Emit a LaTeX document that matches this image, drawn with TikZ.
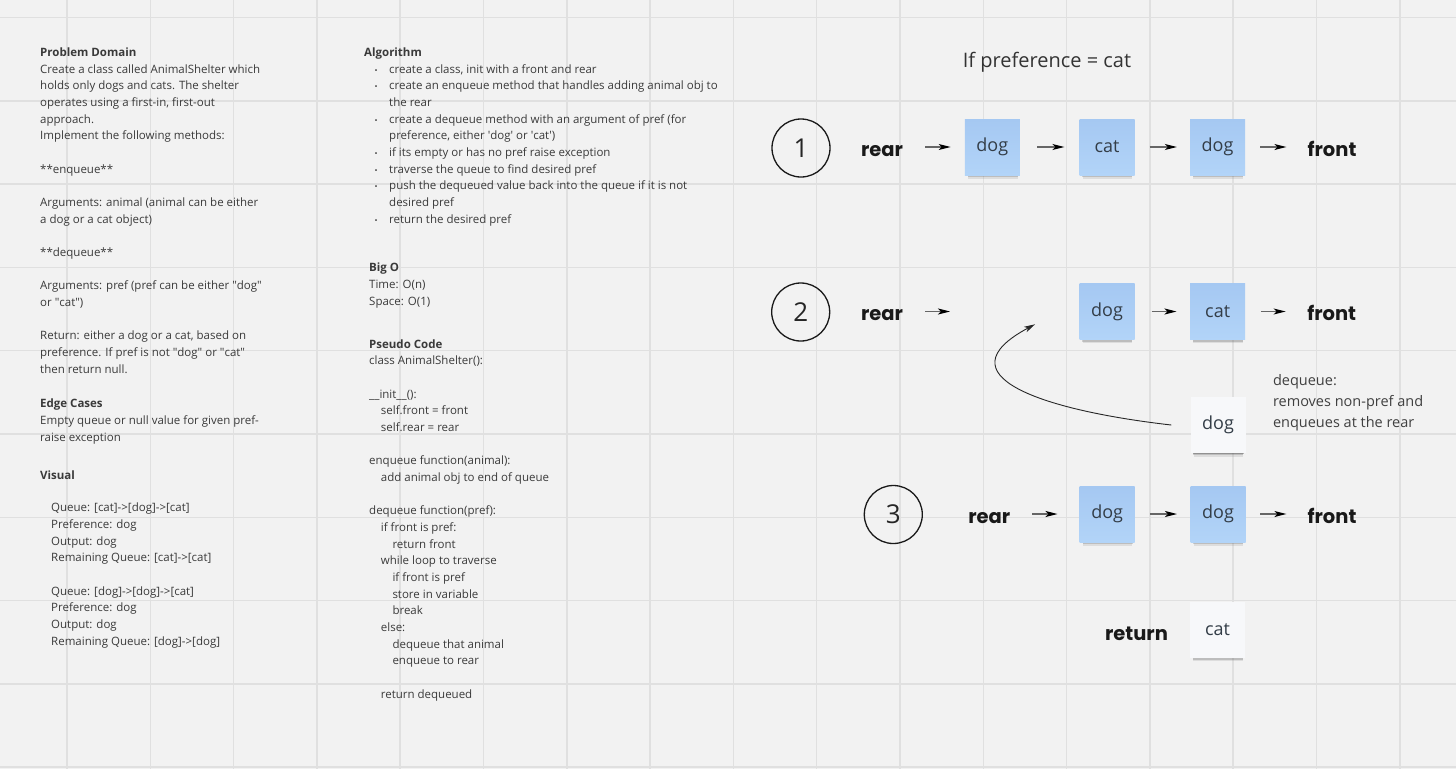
\documentclass[tikz,border=0pt]{standalone}
\usepackage{fontspec}
\setmainfont{Open Sans}
\newfontfamily\poppins{Poppins}
\usetikzlibrary{arrows.meta,shadows}
\definecolor{board}{HTML}{F2F2F2}
\definecolor{gridc}{HTML}{E0E0E0}
\definecolor{ink}{HTML}{3A3A3A}
\definecolor{noteTop}{HTML}{A5C8F2}
\definecolor{noteBot}{HTML}{B2D4F8}
\definecolor{noteWhite}{HTML}{F7F8FA}
\definecolor{noteInk}{HTML}{333D47}
\newcommand\bodyfont{\fontsize{11.5}{16.67}\selectfont}
\newcommand\gap{\\[16.67pt]}
\newcommand\itm{\makebox[25pt][l]{\hspace{10.5pt}{\fontsize{8}{8}\selectfont\textbullet}}}
\newcommand\cont{\hspace*{25pt}}
\newcommand\indA{\hspace*{11.7pt}}
\newcommand\indB{\hspace*{23.3pt}}
\newcommand\dq{\textquotedbl}

\begin{document}
\begin{tikzpicture}[x=1pt,y=-1pt]
\tikzstyle{every node}+=[inner sep=0pt]
\tikzstyle{gridline}=[gridc, line width=1.5pt]
\tikzstyle{textblock}=[anchor=north west, align=left, font=\bodyfont, text=ink]
\tikzstyle{numcircle}=[circle, draw=black!90, line width=1.3pt, minimum size=58pt, font=\fontsize{26}{26}\selectfont, text=black!85]
\tikzstyle{qlabel}=[anchor=base, font=\poppins\bfseries\fontsize{19.5}{20}\selectfont, text=black!90]
\tikzstyle{note}=[minimum width=55pt, minimum height=56pt, font=\fontsize{18}{18}\selectfont, text=noteInk,
  general shadow={fill=black!70, opacity=0.12, shadow scale=0.9, shadow yshift=-7pt, shadow xshift=0.5pt},
  general shadow={fill=black!70, opacity=0.22, shadow scale=0.91, shadow yshift=-5pt, shadow xshift=0.5pt},
  general shadow={fill=black!75, opacity=0.35, shadow scale=0.92, shadow yshift=-3.5pt, shadow xshift=0.5pt}]
\tikzstyle{bluenote}=[note, top color=noteTop, bottom color=noteBot]
\tikzstyle{whitenote}=[note, fill=noteWhite]
\tikzstyle{qarrow}=[draw=black!60, line width=1.2pt, -{Stealth[length=12pt,width=6pt,inset=3pt,color=black]}]
\tikzstyle{backarrow}=[draw=black!85, line width=0.9pt, -{Stealth[length=11pt,width=6pt,inset=3pt]}]

% board and grid
\useasboundingbox (0,0) rectangle (1456,769);
\fill[board] (0,0) rectangle (1456,769);
\foreach \i in {0,...,16}
  \draw[gridline] ({67+83.3*\i},0) -- ++(0,769);
\foreach \j in {0,...,9}
  \draw[gridline] (0,{17.5+83.3*\j}) -- ++(1456,0);

% left column
\node[textblock] (domain) at (40,47.6) {\textbf{Problem Domain}\\Create a class called AnimalShelter which\\holds only dogs and cats. The shelter\\operates using a first-in, first-out\\approach.\\Implement the following methods:\gap**enqueue**\gap Arguments: animal (animal can be either\\a dog or a cat object)\gap**dequeue**\gap Arguments: pref (pref can be either \dq dog\dq\\or \dq cat\dq)\gap Return: either a dog or a cat, based on\\preference. If pref is not \dq dog\dq{} or \dq cat\dq\\then return null.};
\node[textblock, font=\fontsize{11.5}{17}\selectfont] (edges) at (40,399) {\textbf{Edge Cases}\\Empty queue or null value for given pref-\\raise exception};
\node[textblock] (visual) at (40,470.3) {\textbf{Visual}};
\node[textblock] (examples) at (51,503) {Queue: [cat]->[dog]->[cat]\\Preference: dog\\Output: dog\\Remaining Queue: [cat]->[cat]\gap Queue: [dog]->[dog]->[cat]\\Preference: dog\\Output: dog\\Remaining Queue: [dog]->[dog]};

% middle column
\node[textblock] (algo) at (364,47.6) {\textbf{Algorithm}\\\itm create a class, init with a front and rear\\\itm create an enqueue method that handles adding animal obj to\\\cont the rear\\\itm create a dequeue method with an argument of pref (for\\\cont preference, either \textquotesingle dog\textquotesingle{} or \textquotesingle cat\textquotesingle)\\\itm if its empty or has no pref raise exception\\\itm traverse the queue to find desired pref\\\itm push the dequeued value back into the queue if it is not\\\cont desired pref\\\itm return the desired pref};
\node[textblock] (bigo) at (369,263) {\textbf{Big O}\\Time: O(n)\\Space: O(1)};
\node[textblock] (pseudo) at (369,339.3) {\textbf{Pseudo Code}\\class AnimalShelter():\gap\_\_init\_\_():\\\indA self.front = front\\\indA self.rear = rear\gap enqueue function(animal):\\\indA add animal obj to end of queue\gap dequeue function(pref):\\\indA if front is pref:\\\indB return front\\\indA while loop to traverse\\\indB if front is pref\\\indB store in variable\\\indB break\\\indA else:\\\indB dequeue that animal\\\indB enqueue to rear\gap\indA return dequeued};

% right side
\node[anchor=base, font=\fontsize{20}{20}\selectfont, text=black!80] (title) at (1047,67.5) {If preference = cat};

% step 1
\node[numcircle] (stepA) at (801,148) {1};
\node[qlabel] (rearA) at (882,156) {rear};
\node[bluenote] (dogA) at (992.3,147) {dog};
\node[bluenote] (catA) at (1107,147) {cat};
\node[bluenote] (dogB) at (1217.5,147) {dog};
\node[qlabel] (frontA) at (1332,156) {front};
\draw[qarrow, shorten <=22pt, shorten >=14pt] (rearA.east |- dogA) -- (dogA);
\draw[qarrow, shorten <=17pt, shorten >=15pt] (dogA) -- (catA);
\draw[qarrow, shorten <=15pt, shorten >=13pt] (catA) -- (dogB);
\draw[qarrow, shorten <=15pt, shorten >=21pt] (dogB) -- (dogB -| frontA.west);

% step 2
\node[numcircle] (stepB) at (800.7,312) {2};
\node[qlabel] (rearB) at (882,320) {rear};
\coordinate (slotB) at (950,311.5);
\node[bluenote] (dogC) at (1107,311.5) {dog};
\node[bluenote] (catB) at (1217.7,311.5) {cat};
\node[qlabel] (frontB) at (1331.7,320) {front};
\draw[qarrow, shorten <=22pt] (rearB.east |- slotB) -- (slotB);
\draw[qarrow, shorten <=17pt, shorten >=13.5pt] (dogC) -- (catB);
\draw[qarrow, shorten <=15.4pt, shorten >=21.5pt] (catB) -- (catB -| frontB.west);
\node[whitenote] (dogW) at (1218,425) {dog};
\coordinate (backin) at (1035,324.3);
\draw[backarrow] ([xshift=-19pt]dogW.west) .. controls (1040,410) and (940,375) .. (backin);
\node[textblock, font=\fontsize{14.5}{21}\selectfont, text=black!75] (dqnote) at (1272.8,374.5) {dequeue:\\removes non-pref and\\enqueues at the rear};

% step 3
\node[numcircle] (stepC) at (893.3,514.5) {3};
\node[qlabel] (rearC) at (989.3,523.3) {rear};
\node[bluenote] (dogD) at (1107.2,514) {dog};
\node[bluenote] (dogE) at (1218,514) {dog};
\node[qlabel] (frontC) at (1332,523.3) {front};
\draw[qarrow, shorten <=22pt, shorten >=22pt] (rearC.east |- dogD) -- (dogD);
\draw[qarrow, shorten <=15pt, shorten >=13.3pt] (dogD) -- (dogE);
\draw[qarrow, shorten <=14.3pt, shorten >=21pt] (dogE) -- (dogE -| frontC.west);
\node[qlabel] (retC) at (1136.5,640) {return};
\node[whitenote] (catW) at (1217.5,629.5) {cat};
\end{tikzpicture}
\end{document}
